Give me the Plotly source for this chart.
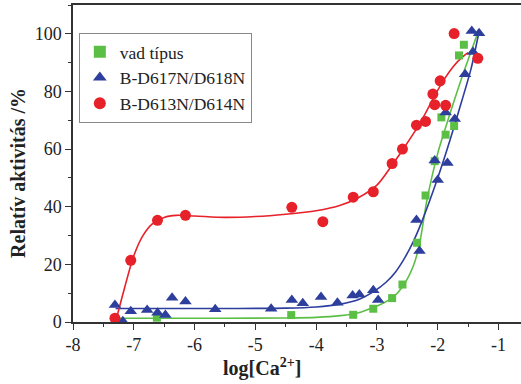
import plotly.graph_objects as go

green_x = [-6.62, -4.41, -3.39, -3.06, -2.75, -2.58, -2.34, -2.20, -2.05, -1.94, -1.87, -1.73, -1.65, -1.57]
green_y = [1.5, 2.4, 2.5, 4.6, 8.3, 13.0, 27.5, 43.9, 55.8, 71.0, 65.0, 68.0, 92.5, 96.2]

blue_x = [-7.31, -7.18, -7.05, -6.78, -6.61, -6.48, -6.37, -6.15, -5.66, -4.74, -4.40, -4.22,
          -3.92, -3.65, -3.40, -3.29, -3.06, -2.98, -2.35, -2.30, -2.00, -2.05, -1.84, -1.87,
          -1.72, -1.55, -1.42, -1.44, -1.32]
blue_y = [5.9, 0.3, 3.7, 4.2, 3.2, 2.4, 8.4, 7.1, 4.4, 4.6, 7.6, 6.5,
          8.7, 6.7, 9.2, 9.5, 11.0, 7.6, 35.4, 24.6, 49.3, 56.0, 55.2, 72.7,
          70.4, 86.0, 93.7, 101.0, 100.2]

red_x = [-7.31, -7.05, -6.61, -6.15, -4.40, -3.89, -3.39, -3.06, -2.75, -2.58, -2.35, -2.20,
         -2.05, -2.08, -1.96, -1.87, -1.73, -1.34]
red_y = [1.3, 21.4, 35.3, 37.0, 39.8, 34.8, 43.3, 45.2, 55.0, 60.0, 68.3, 69.6,
         75.4, 79.1, 83.7, 75.2, 100.1, 91.5]

# ---- fitted curves ----
green_fit_x = [-7.3, -6.5, -5.5, -4.5, -4.0, -3.6, -3.3, -3.06, -2.9, -2.74, -2.57, -2.4, -2.3,
               -2.18, -2.0, -1.9, -1.6, -1.33]
green_fit_y = [1.3, 1.3, 1.3, 1.4, 1.6, 2.2, 3.2, 5.0, 6.5, 8.5, 12.5, 19.5, 27.0,
               42.0, 58.5, 65.5, 85.0, 101.0]

blue_fit_x = [-7.3, -6.5, -5.5, -4.5, -4.0, -3.6, -3.3, -3.05, -2.85, -2.7, -2.55, -2.4, -2.27,
              -2.0, -1.8, -1.6, -1.45, -1.32]
blue_fit_y = [4.7, 4.7, 4.7, 4.8, 5.2, 6.2, 7.8, 10.6, 13.8, 17.2, 22.0, 28.0, 34.4,
              50.0, 63.0, 77.0, 88.0, 100.8]

red_fit_x = [-7.3, -7.15, -7.0, -6.85, -6.7, -6.5, -6.3, -6.0, -5.5, -5.0, -4.5, -4.0, -3.6,
             -3.3, -3.0, -2.75, -2.6, -2.35, -2.2, -2.05, -1.9, -1.75, -1.62, -1.5]
red_fit_y = [0.0, 12.0, 23.0, 30.0, 34.0, 36.3, 37.0, 36.8, 36.3, 36.6, 37.4, 38.6, 40.5,
             43.2, 47.5, 54.5, 59.0, 67.0, 72.5, 78.5, 84.0, 88.5, 91.5, 93.5]

series_names = ["vad típus", "B-D617N/D618N", "B-D613N/D614N"]
x_ticks = [-8, -7, -6, -5, -4, -3, -2, -1]
y_ticks = [0, 20, 40, 60, 80, 100]

GREEN = "#5cbf45"
BLUE = "#2d3e9c"
RED = "#e62129"

fig = go.Figure()
for fx, fy, c in [(green_fit_x, green_fit_y, GREEN), (blue_fit_x, blue_fit_y, BLUE), (red_fit_x, red_fit_y, RED)]:
    fig.add_trace(go.Scatter(x=fx, y=fy, mode="lines", line=dict(color=c, width=1.6, shape="spline", smoothing=0.8),
                             showlegend=False, hoverinfo="skip", cliponaxis=False))

fig.add_trace(go.Scatter(x=green_x, y=green_y, mode="markers", name=series_names[0],
                         marker=dict(symbol="square", size=8, color=GREEN), cliponaxis=False))
fig.add_trace(go.Scatter(x=blue_x, y=blue_y, mode="markers", name=series_names[1],
                         marker=dict(symbol="triangle-up", size=11, color=BLUE), cliponaxis=False))
fig.add_trace(go.Scatter(x=red_x, y=red_y, mode="markers", name=series_names[2],
                         marker=dict(symbol="circle", size=11, color=RED), cliponaxis=False))

axis_color = "#333333"
fig.update_layout(
    width=521, height=384,
    margin=dict(l=73, r=0, t=5, b=62),
    paper_bgcolor="white", plot_bgcolor="white",
    font=dict(family="Liberation Serif", size=17, color="#222222"),
    legend=dict(x=0.013, y=0.912, xanchor="left", yanchor="top",
                bordercolor="#888888", borderwidth=1, bgcolor="white",
                font=dict(size=17.5), tracegroupgap=0, itemsizing="constant"),
    xaxis=dict(range=[-8, -0.63], tickvals=x_ticks, ticktext=[str(v) for v in x_ticks],
               automargin=False,
               showgrid=False, zeroline=False, showline=True, linecolor=axis_color, linewidth=1.5,
               mirror=True, ticks="outside", ticklen=6, tickwidth=1.2, tickcolor=axis_color,
               minor=dict(dtick=0.5, tick0=0, ticks="outside", ticklen=3, tickwidth=1.2, tickcolor=axis_color),
               tickfont=dict(size=18)),
    yaxis=dict(range=[0, 110], tickvals=y_ticks, showgrid=False, zeroline=False, showline=True,
               automargin=False,
               linecolor=axis_color, linewidth=1.5, ticks="outside", ticklen=6, tickwidth=1.2,
               tickcolor=axis_color,
               minor=dict(dtick=10, tick0=0, ticks="outside", ticklen=3, tickwidth=1.2, tickcolor=axis_color),
               tickfont=dict(size=18)),
    annotations=[
        dict(text="<b>log[Ca<sup>2+</sup>]</b>", xref="paper", yref="paper", x=0.422, y=-0.145,
             xanchor="center", yanchor="middle", showarrow=False, font=dict(size=20)),
        dict(text="<b>Relatív aktivitás /%</b>", xref="paper", yref="paper", x=-0.123, y=0.47,
             xanchor="center", yanchor="middle", textangle=-90, showarrow=False, font=dict(size=20)),
    ],
)

fig.write_html("out.html", config={"displayModeBar": False},
               post_script="document.body.style.margin='0';document.body.style.overflow='hidden';")
